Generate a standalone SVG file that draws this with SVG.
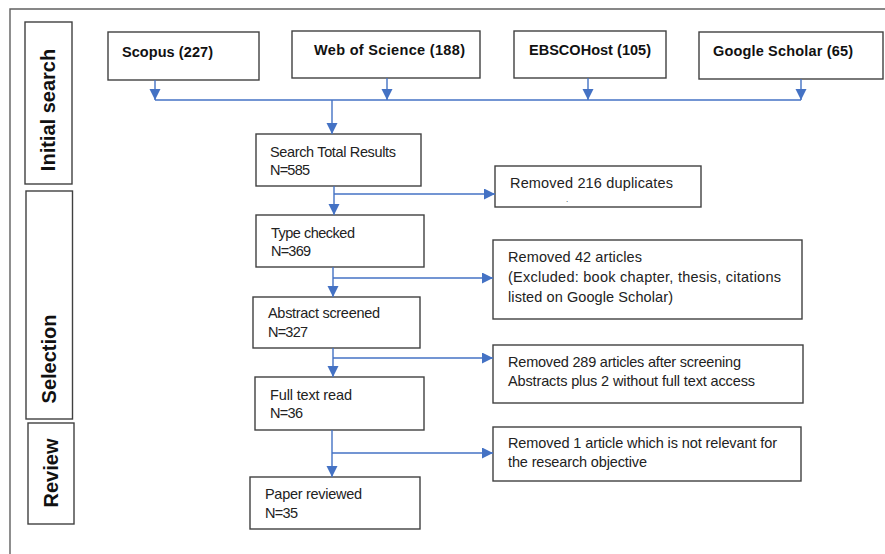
<svg xmlns="http://www.w3.org/2000/svg" width="885" height="554" viewBox="0 0 885 554">
<style>
.box{fill:#fff;stroke:#404040;stroke-width:1.4}
.frame{fill:none;stroke:#606060;stroke-width:1.4}
.t{font-family:"Liberation Sans",Arial,sans-serif;font-size:14.5px;fill:#222}
.dot{font-family:"Liberation Sans",Arial,sans-serif;font-size:8px;fill:#222}
.b{font-family:"Liberation Sans",Arial,sans-serif;font-size:14.5px;font-weight:bold;fill:#111}
.lab{font-family:"Liberation Sans",Arial,sans-serif;font-size:20px;font-weight:bold;fill:#111}
.c{fill:none;stroke:#4472C4;stroke-width:1.4}
</style>
<defs>
<marker id="ah" markerUnits="userSpaceOnUse" markerWidth="12" markerHeight="12" refX="11" refY="5.5" orient="auto">
<path d="M0,0 L11,5.5 L0,11 z" fill="#4472C4"/>
</marker>
</defs>
<rect width="885" height="554" fill="#fff"/>
<path class="frame" d="M10,554 V9 H885"/>

<g id="stage-initial">
<rect class="box" x="25" y="22" width="47" height="162"/>
<text class="lab" transform="translate(55,110) rotate(-90)" text-anchor="middle">Initial search</text>
</g>
<g id="stage-selection">
<rect class="box" x="26" y="191" width="46.5" height="228"/>
<text class="lab" transform="translate(56,359) rotate(-90)" text-anchor="middle">Selection</text>
</g>
<g id="stage-review">
<rect class="box" x="28" y="423" width="46" height="101"/>
<text class="lab" transform="translate(58,473) rotate(-90)" text-anchor="middle">Review</text>
</g>

<g id="scopus">
<rect class="box" x="108" y="32" width="151" height="48"/>
<text class="b" x="122" y="57" textLength="91" lengthAdjust="spacing">Scopus (227)</text>
</g>
<g id="wos">
<rect class="box" x="292" y="31" width="188" height="47"/>
<text class="b" x="314" y="55" textLength="151" lengthAdjust="spacing">Web of Science (188)</text>
</g>
<g id="ebsco">
<rect class="box" x="514" y="31" width="152" height="47"/>
<text class="b" x="529" y="55" textLength="122" lengthAdjust="spacing">EBSCOHost (105)</text>
</g>
<g id="google">
<rect class="box" x="699" y="32" width="184" height="47"/>
<text class="b" x="713" y="56" textLength="140" lengthAdjust="spacing">Google Scholar (65)</text>
</g>

<g id="total">
<rect class="box" x="256" y="134" width="165" height="52"/>
<text class="t" x="270" y="157" textLength="126" lengthAdjust="spacing">Search Total Results</text>
<text class="t" x="270" y="175" textLength="40" lengthAdjust="spacing">N=585</text>
</g>
<g id="dup">
<rect class="box" x="495" y="166" width="206" height="41"/>
<text class="t" x="510" y="188" textLength="163" lengthAdjust="spacing">Removed 216 duplicates</text>
<text class="dot" x="566" y="202">.</text>
</g>
<g id="type">
<rect class="box" x="256" y="215" width="168" height="52"/>
<text class="t" x="271" y="238" textLength="84" lengthAdjust="spacing">Type checked</text>
<text class="t" x="271" y="256" textLength="40" lengthAdjust="spacing">N=369</text>
</g>
<g id="rem42">
<rect class="box" x="493" y="240" width="309" height="79"/>
<text class="t" x="508" y="262" textLength="134" lengthAdjust="spacing">Removed 42 articles</text>
<text class="t" x="508" y="282" textLength="273" lengthAdjust="spacing">(Excluded: book chapter, thesis, citations</text>
<text class="t" x="508" y="302" textLength="165" lengthAdjust="spacing">listed on Google Scholar)</text>
</g>
<g id="abstract">
<rect class="box" x="253" y="297" width="167" height="51"/>
<text class="t" x="268" y="318" textLength="112" lengthAdjust="spacing">Abstract screened</text>
<text class="t" x="268" y="337" textLength="40" lengthAdjust="spacing">N=327</text>
</g>
<g id="rem289">
<rect class="box" x="493" y="345" width="310" height="58"/>
<text class="t" x="508" y="367" textLength="233" lengthAdjust="spacing">Removed 289 articles after screening</text>
<text class="t" x="508" y="386" textLength="247" lengthAdjust="spacing">Abstracts plus 2 without full text access</text>
</g>
<g id="fulltext">
<rect class="box" x="255" y="377" width="169" height="53"/>
<text class="t" x="270" y="400" textLength="82" lengthAdjust="spacing">Full text read</text>
<text class="t" x="270" y="418" textLength="33" lengthAdjust="spacing">N=36</text>
</g>
<g id="rem1">
<rect class="box" x="493" y="427" width="308" height="54"/>
<text class="t" x="508" y="448" textLength="269" lengthAdjust="spacing">Removed 1 article which is not relevant for</text>
<text class="t" x="508" y="467" textLength="139" lengthAdjust="spacing">the research objective</text>
</g>
<g id="paper">
<rect class="box" x="250" y="477" width="170" height="52"/>
<text class="t" x="265" y="499" textLength="97" lengthAdjust="spacing">Paper reviewed</text>
<text class="t" x="265" y="518" textLength="33" lengthAdjust="spacing">N=35</text>
</g>

<g id="connectors">
<path class="c" d="M155,80 V100" marker-end="url(#ah)"/>
<path class="c" d="M387,78 V100" marker-end="url(#ah)"/>
<path class="c" d="M588,78 V100" marker-end="url(#ah)"/>
<path class="c" d="M801,79 V100" marker-end="url(#ah)"/>
<path class="c" d="M155,100 H801"/>
<path class="c" d="M332,100 V134" marker-end="url(#ah)"/>
<path class="c" d="M334,186 V215" marker-end="url(#ah)"/>
<path class="c" d="M334,194 H495" marker-end="url(#ah)"/>
<path class="c" d="M333,267 V297" marker-end="url(#ah)"/>
<path class="c" d="M333,278 H493" marker-end="url(#ah)"/>
<path class="c" d="M333,348 V377" marker-end="url(#ah)"/>
<path class="c" d="M333,358 H493" marker-end="url(#ah)"/>
<path class="c" d="M332,430 V477" marker-end="url(#ah)"/>
<path class="c" d="M332,453 H493" marker-end="url(#ah)"/>
</g>
</svg>
